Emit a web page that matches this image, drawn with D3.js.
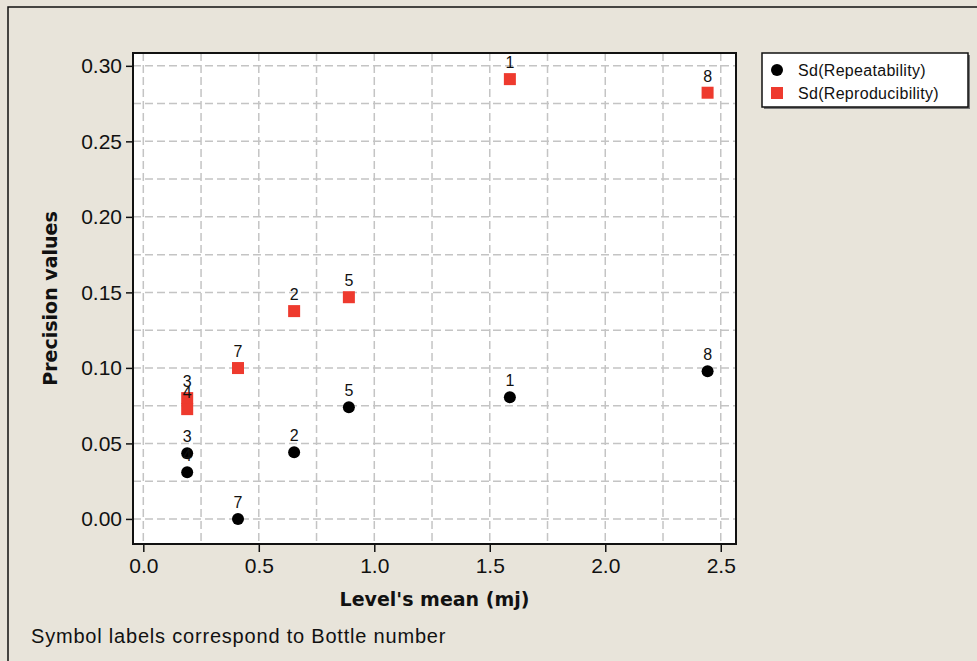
<!DOCTYPE html>
<html>
<head>
<meta charset="utf-8">
<script src="https://cdn.jsdelivr.net/npm/d3@7"></script>
<style>
  body { margin: 0; background: #e8e4da; }
  text { font-family: "Liberation Sans", Arial, sans-serif; fill: #111; }
</style>
</head>
<body>
<div id="chart"></div>
<script>
// data: bottle numbers, level means and the two precision series
var bottles = ["3", "4", "7", "2", "5", "1", "8"];
var levelMean = [0.19, 0.19, 0.41, 0.653, 0.89, 1.587, 2.443];
var sdRepeat = [0.0435, 0.0309, 0.000, 0.0441, 0.0740, 0.0806, 0.0978];
var sdReprod = [0.0800, 0.0727, 0.0999, 0.1376, 0.1468, 0.2912, 0.2822];
var xTicks = [0, 0.5, 1.0, 1.5, 2.0, 2.5];
var yTicks = [0, 0.05, 0.10, 0.15, 0.20, 0.25, 0.30];
var seriesNames = ["Sd(Repeatability)", "Sd(Reproducibility)"];

var width = 977, height = 661;
var plot = {left: 133, top: 53, right: 736, bottom: 544};

var svg = d3.select('#chart')
  .append('svg')
  .attr('width', width)
  .attr('height', height);

// outer frame
svg.append('rect')
  .attr('x', 8).attr('y', 7)
  .attr('width', width + 10).attr('height', height + 10)
  .attr('fill', '#e8e4da')
  .attr('stroke', '#111').attr('stroke-width', 1.5);

var x = d3.scaleLinear().domain([-0.0446, 2.566]).range([plot.left, plot.right]);
var y = d3.scaleLinear().domain([-0.0166, 0.3085]).range([plot.bottom, plot.top]);

svg.append('rect')
  .attr('x', plot.left).attr('y', plot.top)
  .attr('width', plot.right - plot.left).attr('height', plot.bottom - plot.top)
  .attr('fill', '#fff');

// dashed grid at major and minor ticks
var grid = svg.append('g');
grid.selectAll('line.v')
  .data(d3.range(0, 2.51, 0.25))
  .enter().append('line')
  .attr('x1', function(d) { return x(d); }).attr('x2', function(d) { return x(d); })
  .attr('y1', plot.top).attr('y2', plot.bottom);
grid.selectAll('line.h')
  .data(d3.range(0, 0.301, 0.025))
  .enter().append('line')
  .attr('y1', function(d) { return y(d); }).attr('y2', function(d) { return y(d); })
  .attr('x1', plot.left).attr('x2', plot.right);
grid.selectAll('line')
  .attr('stroke', '#c4c4c4')
  .attr('stroke-width', 1.5)
  .attr('stroke-dasharray', '8,4');

// axes
var xAxis = svg.append('g')
  .attr('transform', 'translate(0,' + plot.bottom + ')')
  .call(d3.axisBottom(x).tickValues(xTicks).tickFormat(d3.format('.1f')).tickSize(8).tickPadding(6));
var yAxis = svg.append('g')
  .attr('transform', 'translate(' + plot.left + ',0)')
  .call(d3.axisLeft(y).tickValues(yTicks).tickFormat(d3.format('.2f')).tickSize(7).tickPadding(4));
[xAxis, yAxis].forEach(function(a) {
  a.select('.domain').remove();
  a.selectAll('line').attr('stroke', '#111').attr('stroke-width', 1.5);
  a.selectAll('text').attr('font-size', 21).attr('fill', '#111')
    .attr('font-family', '"Liberation Sans", Arial, sans-serif');
});

// plot border
svg.append('rect')
  .attr('x', plot.left).attr('y', plot.top)
  .attr('width', plot.right - plot.left).attr('height', plot.bottom - plot.top)
  .attr('fill', 'none')
  .attr('stroke', '#111').attr('stroke-width', 2);

// points
var pts = svg.append('g');
pts.selectAll('circle')
  .data(levelMean)
  .enter().append('circle')
  .attr('cx', function(d) { return x(d); })
  .attr('cy', function(d, i) { return y(sdRepeat[i]); })
  .attr('r', 6)
  .attr('fill', '#000');
pts.selectAll('rect')
  .data(levelMean)
  .enter().append('rect')
  .attr('x', function(d) { return x(d) - 6; })
  .attr('y', function(d, i) { return y(sdReprod[i]) - 6; })
  .attr('width', 12).attr('height', 12)
  .attr('fill', '#ee3a2e');

// symbol labels
var labels = svg.append('g').attr('font-size', 16).attr('text-anchor', 'middle');
[sdRepeat, sdReprod].forEach(function(vals) {
  labels.selectAll(null)
    .data(levelMean)
    .enter().append('text')
    .attr('x', function(d) { return x(d); })
    .attr('y', function(d, i) { return y(vals[i]) - 11; })
    .text(function(d, i) { return bottles[i]; });
});

// axis titles
svg.append('text')
  .attr('x', (plot.left + plot.right) / 2).attr('y', 606)
  .attr('text-anchor', 'middle')
  .attr('font-size', 19).attr('font-weight', 'bold')
  .style('font-family', '"DejaVu Sans", sans-serif')
  .text("Level's mean (mj)");
svg.append('text')
  .attr('transform', 'translate(57,' + ((plot.top + plot.bottom) / 2) + ') rotate(-90)')
  .attr('text-anchor', 'middle')
  .attr('font-size', 19).attr('font-weight', 'bold')
  .style('font-family', '"DejaVu Sans", sans-serif')
  .text('Precision values');

// legend
var legend = svg.append('g').attr('transform', 'translate(762,53)');
legend.append('rect')
  .attr('x', 2).attr('y', 2).attr('width', 206).attr('height', 54)
  .attr('fill', '#777');
legend.append('rect')
  .attr('width', 206).attr('height', 54)
  .attr('fill', '#fff').attr('stroke', '#111').attr('stroke-width', 1.5);
var item = legend.selectAll('.legend')
  .data(seriesNames)
  .enter().append('g')
  .attr('class', 'legend')
  .attr('transform', function(d, i) { return 'translate(0,' + (17 + i * 23) + ')'; });
item.filter(function(d, i) { return i === 0; }).append('circle')
  .attr('cx', 15).attr('r', 6).attr('fill', '#000');
item.filter(function(d, i) { return i === 1; }).append('rect')
  .attr('x', 9).attr('y', -6).attr('width', 12).attr('height', 12).attr('fill', '#ee3a2e');
item.append('text')
  .attr('x', 36).attr('y', 6)
  .attr('font-size', 16)
  .style('letter-spacing', '0.3px')
  .text(function(d) { return d; });

// footnote
svg.append('text')
  .attr('x', 31).attr('y', 643)
  .attr('font-size', 20)
  .style('letter-spacing', '0.8px')
  .text('Symbol labels correspond to Bottle number');
</script>
</body>
</html>
